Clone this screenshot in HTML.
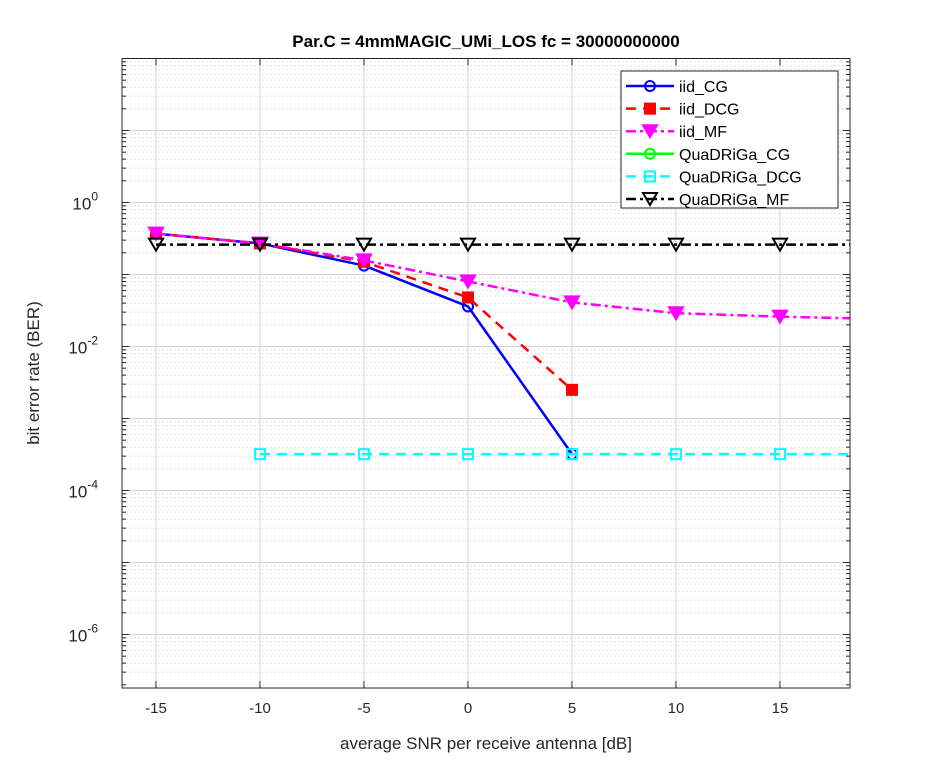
<!DOCTYPE html>
<html><head><meta charset="utf-8"><style>
body{margin:0;background:#fff;}
svg text{font-family:"Liberation Sans",Arial,sans-serif;}
</style></head><body>
<svg id="chart" width="940" height="774" viewBox="0 0 940 774" xmlns="http://www.w3.org/2000/svg">
<rect x="0" y="0" width="940" height="774" fill="#fff"/>
<rect x="122" y="58.5" width="728" height="629.5" fill="#fff"/>
<g id="grid"></g>
<g id="series"></g>
<rect x="122" y="58.5" width="728" height="629.5" fill="none" stroke="#262626" stroke-width="1"/>
<g id="ticks"></g>
<text x="486" y="47" font-size="17" font-weight="bold" text-anchor="middle" fill="#000">Par.C = 4mmMAGIC_UMi_LOS fc = 30000000000</text>
<text x="486" y="749" font-size="17" text-anchor="middle" fill="#262626">average SNR per receive antenna [dB]</text>
<text x="0" y="0" transform="translate(39 373) rotate(-90)" font-size="17" text-anchor="middle" fill="#262626">bit error rate (BER)</text>
<g id="legend"></g>
</svg>
<script>
const snr = [-15, -10, -5, 0, 5, 10, 15, 20];
const iidCG = [0.37, 0.27, 0.133, 0.036, 0.00032];
const iidDCG = [0.37, 0.27, 0.15, 0.048, 0.0025];
const iidMF = [0.37, 0.27, 0.157, 0.08, 0.041, 0.029, 0.026, 0.024];
const quaCG = [];
const quaDCG = [null, 0.00032, 0.00032, 0.00032, 0.00032, 0.00032, 0.00032, 0.00032];
const quaMF = [0.26, 0.26, 0.26, 0.26, 0.26, 0.26, 0.26, 0.26];
const xTicks = [-15, -10, -5, 0, 5, 10, 15];
const yDecades = [2, 1, 0, -1, -2, -3, -4, -5, -6, -7];
const yLabelDecades = [0, -2, -4, -6];

const NS = "http://www.w3.org/2000/svg";
const L = 122, R = 850, T = 58.5, B = 688;
function xs(v){ return 468 + 20.8 * v; }
function ys(v){ return 202.5 - 72 * Math.log10(v); }
function mk(tag, attrs, parent){ const e = document.createElementNS(NS, tag); for (const k in attrs) e.setAttribute(k, attrs[k]); parent.appendChild(e); return e; }

const grid = document.getElementById('grid');
const ticks = document.getElementById('ticks');
yDecades.forEach(d => {
  for (let m = 2; m <= 9; m++) {
    const y = ys(m * Math.pow(10, d - 1));
    if (y < T || y > B) continue;
    const g = mk('line', {x1: L, x2: R, y1: y, y2: y, stroke: '#e2e2e2', 'stroke-width': 1, 'stroke-dasharray': '2 2'}, grid);
    
    
    const t1 = mk('line', {x1: L, x2: L + 4, y1: y, y2: y, stroke: '#262626'}, ticks);
    
    
    const t2 = mk('line', {x1: R - 4, x2: R, y1: y, y2: y, stroke: '#262626'}, ticks);
    
    
  }
});
yDecades.forEach(d => {
  const y = ys(Math.pow(10, d));
  if (y < T - 1 || y > B) return;
  const g = mk('line', {x1: L, x2: R, y1: y, y2: y, stroke: '#d4d4d4', 'stroke-width': 1}, grid);
  
  
  const t1 = mk('line', {x1: L, x2: L + 7, y1: y, y2: y, stroke: '#262626'}, ticks);
  
  
  const t2 = mk('line', {x1: R - 7, x2: R, y1: y, y2: y, stroke: '#262626'}, ticks);
  
  
});
yLabelDecades.forEach(d => {
  const y = ys(Math.pow(10, d));
  const t = mk('text', {x: 98, y: y + 7, 'font-size': 17, 'text-anchor': 'end', fill: '#262626'}, ticks);
  
  
  t.textContent = '10';
  const s = mk('tspan', {dy: -9, 'font-size': 12}, t);
  s.textContent = String(d);
});
xTicks.forEach(v => {
  const x = xs(v);
  const g = mk('line', {x1: x, x2: x, y1: T, y2: B, stroke: '#d4d4d4'}, grid);
  
  
  const t1 = mk('line', {x1: x, x2: x, y1: B - 7, y2: B, stroke: '#262626'}, ticks);
  
  
  const t2 = mk('line', {x1: x, x2: x, y1: T, y2: T + 7, stroke: '#262626'}, ticks);
  
  
  const lb = mk('text', {x: x, y: 713, 'font-size': 15, 'text-anchor': 'middle', fill: '#262626'}, ticks);
  
  
  lb.textContent = String(v);
});

const seriesDefs = [
  {name: 'iid_CG', data: iidCG, color: '#0000ff', dash: '', marker: 'circle', fill: false},
  {name: 'iid_DCG', data: iidDCG, color: '#ff0000', dash: '10 7', marker: 'square', fill: true},
  {name: 'iid_MF', data: iidMF, color: '#ff00ff', dash: '10 4 3 4', marker: 'tri', fill: true},
  {name: 'QuaDRiGa_CG', data: quaCG, color: '#00ff00', dash: '', marker: 'circle', fill: false},
  {name: 'QuaDRiGa_DCG', data: quaDCG, color: '#00ffff', dash: '10 7', marker: 'square', fill: false},
  {name: 'QuaDRiGa_MF', data: quaMF, color: '#000000', dash: '10 4 3 4', marker: 'tri', fill: false}
];
function marker(type, x, y, color, filled, parent){
  let e;
  const f = filled ? color : 'none';
  if (type === 'circle') e = mk('circle', {cx: x, cy: y, r: 5, fill: 'none', stroke: color, 'stroke-width': 2}, parent);
  else if (type === 'square') e = mk('rect', {x: x - 5, y: y - 5, width: 10, height: 10, fill: f, stroke: color, 'stroke-width': 2}, parent);
  else e = mk('path', {d: `M${x-7},${y-6} L${x+7},${y-6} L${x},${y+6} Z`, fill: f, stroke: color, 'stroke-width': 2}, parent);
  
  
}
const sg = document.getElementById('series');
const clip = mk('clipPath', {id: 'pc'}, sg);
mk('rect', {x: L, y: T, width: R - L, height: B - T}, clip);
seriesDefs.forEach(s => {
  const g = mk('g', {'clip-path': 'url(#pc)'}, sg);
  
  
  const pts = [];
  s.data.forEach((v, i) => { if (v != null) pts.push([xs(snr[i]), ys(v)]); });
  if (pts.length > 1) {
    const p = mk('polyline', {points: pts.map(p => p.join(',')).join(' '), fill: 'none', stroke: s.color, 'stroke-width': 2.5, 'stroke-dasharray': s.dash}, g);
    
    
  }
  pts.forEach(p => marker(s.marker, p[0], p[1], s.color, s.fill, g));
});

const lg = document.getElementById('legend');
const box = mk('rect', {x: 621, y: 71, width: 217, height: 137, fill: '#fff', stroke: '#262626', 'stroke-width': 1}, lg);


seriesDefs.forEach((s, i) => {
  const y = 86 + i * 22.6;
  const g = mk('g', {}, lg);
  
  
  mk('line', {x1: 626, x2: 674, y1: y, y2: y, stroke: s.color, 'stroke-width': 2.5, 'stroke-dasharray': s.dash}, g);
  marker(s.marker, 650, y, s.color, s.fill, g);
  const t = mk('text', {x: 679, y: y + 6, 'font-size': 16, fill: '#000'}, g);
  
  
  t.textContent = s.name;
});
</script>
</body></html>
